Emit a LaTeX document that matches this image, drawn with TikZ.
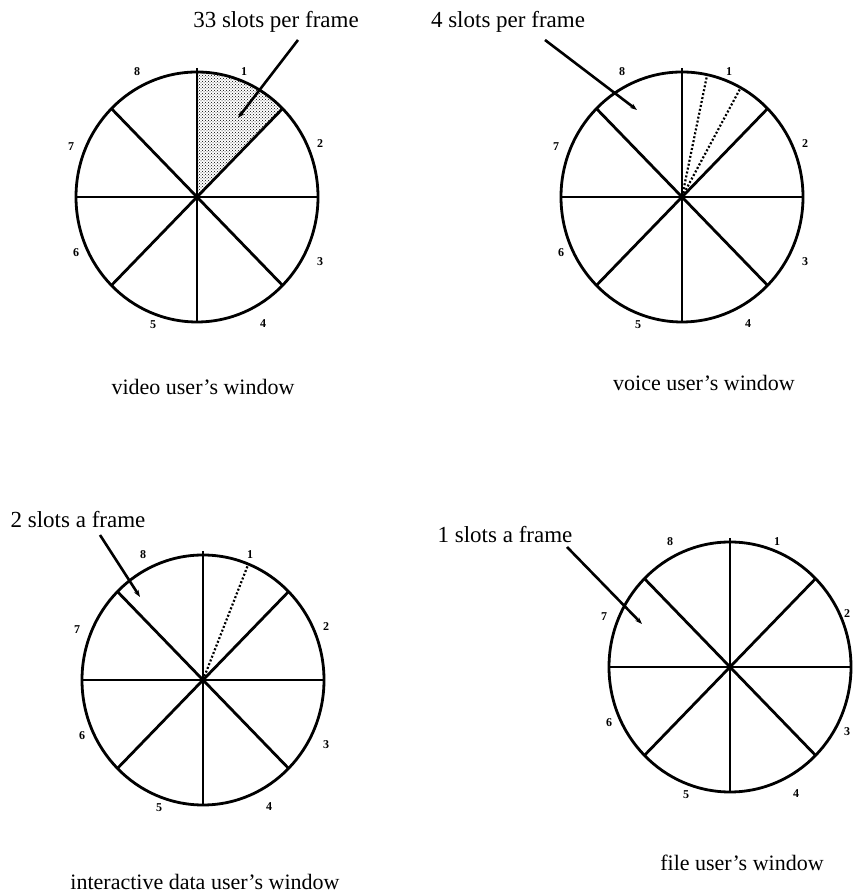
\documentclass[tikz,border=0pt]{standalone}
\usepackage{fontspec}
\setmainfont{Liberation Serif}
\usetikzlibrary{arrows.meta, patterns}
\tikzset{
  % one pt is one pixel of the scan, so lines are heavy
  every picture/.append style = {line width=2.8pt},
  rim/.style      = {line width=2.8pt},
  spoke/.style    = {line width=2.8pt},
  slotline/.style = {dash pattern=on 2pt off 2pt, line width=2.2pt},
  pointer/.style  = {-{Stealth[length=7pt, width=5pt]}, line width=2.6pt},
  note/.style     = {font=\fontsize{23}{27}\selectfont, inner sep=0pt},
  caption/.style  = {font=\fontsize{22}{26}\selectfont, inner sep=0pt},
  slotno/.style   = {font=\fontsize{12}{14}\selectfont\bfseries, inner sep=0pt},
  slotfill/.style = {pattern=crosshatch dots, pattern color=black},
}

\begin{document}
\begin{tikzpicture}[x=1pt, y=1pt]
  \useasboundingbox (0,0) rectangle (854,893);
  % wheel centres: video, voice, interactive data, file
  \coordinate (vid) at (197,696);
  \coordinate (voi) at (682,696);
  \coordinate (int) at (203,213);
  \coordinate (fil) at (730,226);
  % slot taken by the video user
  \fill[slotfill] (vid) -- ++(0,125)
    arc[start angle=90, end angle=45, x radius=121, y radius=125] -- cycle;
  % rims, spokes and slot numbers (\r: how far out 2 and 3 sit)
  \foreach \w/\r in {vid/123, voi/123, int/123, fil/117} {
    \draw[rim] (\w) ellipse [x radius=121, y radius=125];
    \draw[spoke] ([yshift=129]\w) -- ([yshift=-125]\w);
    \foreach \a in {0,45,135}
      \draw[spoke] ([shift={({121*cos(\a)},{125*sin(\a)})}]\w)
        -- ([shift={({-121*cos(\a)},{-125*sin(\a)})}]\w);
    \fill (\w) circle (3.5);
    \foreach \n/\dx/\dy in {1/47/125, 2/\r/53, 3/\r/-65, 4/66/-127,
                            5/-44/-128, 6/-121/-56, 7/-126/50, 8/-60/125}
      \node[slotno] (\w-\n) at ([shift={(\dx,\dy)}]\w) {\n};
  }
  % partial slots of voice and interactive data
  \foreach \a in {78,61}
    \draw[slotline] (voi) -- ([shift={({121*cos(\a)},{125*sin(\a)})}]voi);
  \draw[slotline] (int) -- ([shift={({121*cos(68)},{125*sin(68)})}]int);
  % rate notes and their pointers
  \node[note] (vidnote) at (276,871) {33 slots per frame};
  \node[note] (voinote) at (508,871) {4 slots per frame};
  \node[note] (intnote) at (78,373) {2 slots a frame};
  \node[note] (filnote) at (505,358) {1 slots a frame};
  \coordinate (vidfrom) at (298,853); \coordinate (vidto) at (238,775);
  \coordinate (voifrom) at (545,853); \coordinate (voito) at (637,783);
  \coordinate (intfrom) at (100,358); \coordinate (intto) at (140,296);
  \coordinate (filfrom) at (567,346); \coordinate (filto) at (642,269);
  \draw[pointer] (vidfrom) -- (vidto);
  \draw[pointer] (voifrom) -- (voito);
  \draw[pointer] (intfrom) -- (intto);
  \draw[pointer] (filfrom) -- (filto);
  % window captions
  \node[caption] (vidcap) at (203,506) {video user's window};
  \node[caption] (voicap) at (704,510) {voice user's window};
  \node[caption] (intcap) at (205,11) {interactive data user's window};
  \node[caption] (filcap) at (742,30) {file user's window};
\end{tikzpicture}
\end{document}
